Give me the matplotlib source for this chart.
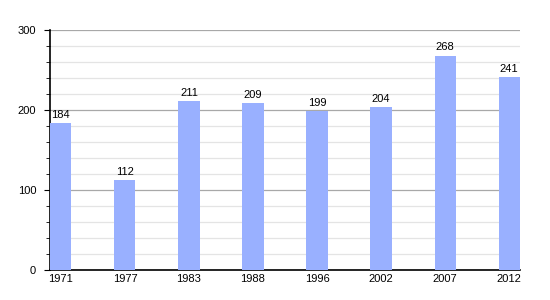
import matplotlib.pyplot as plt
from matplotlib.ticker import MultipleLocator

years = ['1971', '1977', '1983', '1988', '1996', '2002', '2007', '2012']
population = [184, 112, 211, 209, 199, 204, 268, 241]

plt.rcParams['font.family'] = ['Liberation Sans', 'DejaVu Sans']

fig = plt.figure(figsize=(5.5, 3), dpi=100)
ax = fig.add_axes([50 / 550, 0.1, 470 / 550, 0.8])

x = list(range(len(years)))
ax.bar(x, population, width=0.33, color='#99b0ff', zorder=3)
for xi, v in zip(x, population):
    ax.text(xi, v + 4, str(v), ha='center', va='bottom', fontsize=8, zorder=4)

ax.set_xlim(-0.17, len(years) - 1 + 0.17)
ax.set_ylim(0, 300)
ax.set_xticks(x)
ax.set_xticklabels(years)
ax.yaxis.set_major_locator(MultipleLocator(100))
ax.yaxis.set_minor_locator(MultipleLocator(20))

ax.grid(axis='y', which='major', color='#a8a8a8', linewidth=0.9, zorder=0)
ax.grid(axis='y', which='minor', color='#e4e4e4', linewidth=0.9, zorder=0)

for s in ['top', 'right']:
    ax.spines[s].set_visible(False)
ax.spines['left'].set_linewidth(1.2)
ax.spines['bottom'].set_linewidth(1.2)

ax.tick_params(axis='x', length=0, labelsize=8, pad=3)
ax.tick_params(axis='y', which='major', length=4, labelsize=8, pad=6)
ax.tick_params(axis='y', which='minor', length=3)

fig.savefig('out.png', dpi=100)
